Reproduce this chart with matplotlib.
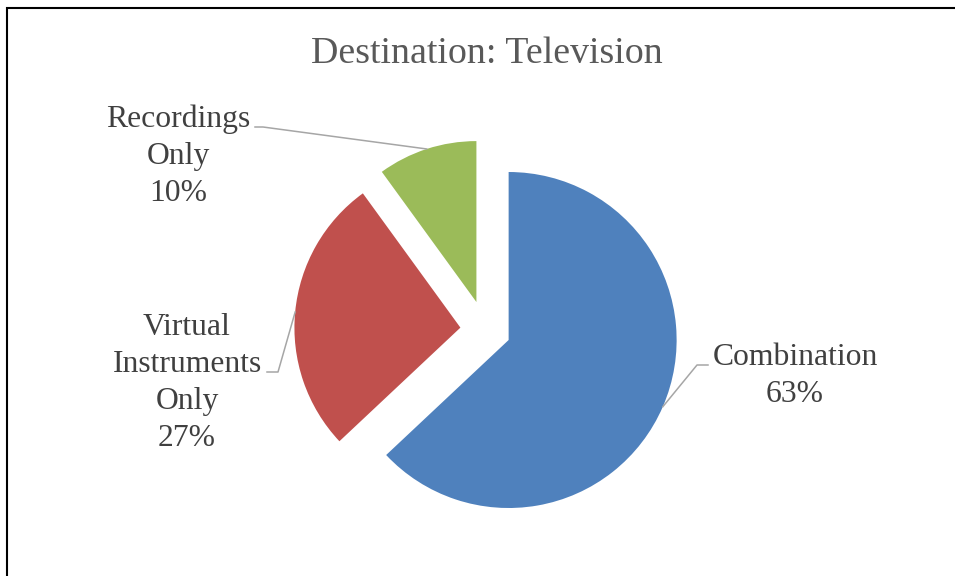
import matplotlib.pyplot as plt
import numpy as np
from matplotlib.patches import Rectangle

# data
labels = ["Combination", "Virtual\nInstruments\nOnly", "Recordings\nOnly"]
values = [63, 27, 10]
colors = ["#4F81BD", "#C0504D", "#9BBB59"]
title = "Destination: Television"

W, H = 955, 576
CX, CY, R = 485.5, 330, 168  # pie center / radius in pixels


def px(x, y):
    # pixel (from top-left) -> data coords, pie radius = 1
    return (x - CX) / R, (CY - y) / R


plt.rcParams['font.family'] = ['Liberation Serif', 'DejaVu Serif']

fig = plt.figure(figsize=(W / 100, H / 100), dpi=100)
ax = fig.add_axes([0, 0, 1, 1])
wedges, _ = ax.pie(values, colors=colors, startangle=90, counterclock=False,
                   explode=[0.15, 0.15, 0.175], radius=1,
                   wedgeprops=dict(linewidth=0))
# slight radius differences seen in the original
for w, rr in zip(wedges, [1.0, 0.988, 0.958]):
    w.set_radius(rr)

x0, y0 = px(0, H)
x1, y1 = px(W, 0)
ax.set_xlim(x0, x1)
ax.set_ylim(y0, y1)
ax.set_aspect('auto')
ax.axis('off')

# label: center x and baseline of first line, and elbow of the leader line (pixels)
label_pos = [(795, 365), (187, 335), (178, 127)]
elbows = [[(708, 365), (697, 365)], [(267, 372), (278, 372)], [(255, 127), (263, 127)]]
line_step = 37

for w, lab, v, (lx, ly), elb in zip(wedges, labels, values, label_pos, elbows):
    tm = np.deg2rad((w.theta1 + w.theta2) / 2)
    ex = w.center[0] + w.r * np.cos(tm)
    ey = w.center[1] + w.r * np.sin(tm)
    pts = [px(*p) for p in elb] + [(ex, ey)]
    ax.plot([p[0] for p in pts], [p[1] for p in pts], color="#A6A6A6", lw=1.1)
    lines = lab.split("\n") + ["%d%%" % v]
    for i, s in enumerate(lines):
        tx, ty = px(lx, ly + i * line_step)
        ax.text(tx, ty, s, ha='center', va='baseline',
                fontsize=22.75, color="#404040")

fig.text(486.5 / W, 1 - 63 / H, title, ha='center', va='baseline',
         fontsize=27.3, color="#595959")

# outer border (only left and top edges visible)
fig.add_artist(Rectangle((7 / W, -0.1), 1.2, 1.1 - 8 / H,
                         fill=False, lw=1.5, edgecolor='black',
                         transform=fig.transFigure))

fig.savefig("out.png", dpi=100, facecolor='white')
